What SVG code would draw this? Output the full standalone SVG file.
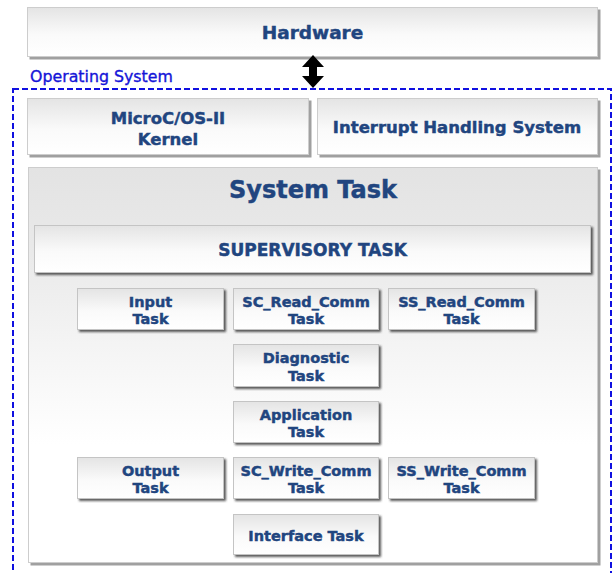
<svg xmlns="http://www.w3.org/2000/svg" width="613" height="573" viewBox="0 0 613 573">
<defs>
<linearGradient id="gBox" x1="0" y1="0" x2="0" y2="1">
<stop offset="0" stop-color="#e4e4e4"/>
<stop offset="0.55" stop-color="#fafafa"/>
<stop offset="1" stop-color="#ffffff"/>
</linearGradient>
<linearGradient id="gBig" x1="0" y1="0" x2="0" y2="1">
<stop offset="0" stop-color="#e3e3e3"/>
<stop offset="0.2" stop-color="#e9e9e9"/>
<stop offset="0.7" stop-color="#ffffff"/>
<stop offset="1" stop-color="#ffffff"/>
</linearGradient>
<filter id="sh" x="-5%" y="-10%" width="115%" height="130%">
<feDropShadow dx="2" dy="2" stdDeviation="0.8" flood-color="#333" flood-opacity="0.8"/>
</filter>
<filter id="shL" x="-5%" y="-10%" width="115%" height="130%">
<feDropShadow dx="2.5" dy="2.5" stdDeviation="0.6" flood-color="#888" flood-opacity="0.8"/>
</filter>
<marker id="head" viewBox="0 0 12 22" markerWidth="12" markerHeight="22" refX="5" refY="11" orient="auto-start-reverse" markerUnits="userSpaceOnUse">
<path d="M0,0 L12,11 L0,22 Z" fill="#000"/>
</marker>
</defs>
<style>
.box{fill:url(#gBox);stroke:#c4c4c4;stroke-width:1;filter:url(#sh)}
.big{fill:url(#gBox);stroke:#cdcdcd;stroke-width:1;filter:url(#shL)}
.sys{fill:url(#gBig);stroke:#cdcdcd;stroke-width:1;filter:url(#shL)}
.t{font-family:"DejaVu Sans","Liberation Sans",sans-serif;font-weight:bold;fill:#21457f;stroke:#21457f;stroke-width:0.45;text-anchor:middle}
.s{font-size:14.5px}
.m{font-size:16.5px}
.os{fill:none;stroke:#1010e0;stroke-width:2;stroke-dasharray:6 3}
</style>
<rect width="613" height="573" fill="#ffffff"/>

<g id="os-frame">
<rect class="os" x="13" y="89" width="598" height="520"/>
<text x="30" y="82" font-family="DejaVu Sans, sans-serif" font-size="15.8" fill="#1414d8" stroke="#1414d8" stroke-width="0.35">Operating System</text>
</g>

<g id="hardware">
<rect class="big" x="27.5" y="7.5" width="570" height="49"/>
<text class="t" x="312.5" y="39" font-size="18.5">Hardware</text>
</g>

<g id="kernel">
<rect class="big" x="27.5" y="98.5" width="281" height="56"/>
<text class="t m" x="168" y="124">MicroC/OS-II</text>
<text class="t m" x="168" y="145">Kernel</text>
</g>

<g id="interrupt">
<rect class="big" x="317.5" y="98.5" width="280" height="56"/>
<text class="t m" x="457" y="133">Interrupt Handling System</text>
</g>

<g id="system-task">
<rect class="sys" x="28.5" y="167.5" width="569" height="395"/>
<text class="t" x="313" y="198" font-size="24">System Task</text>
</g>

<g id="supervisory">
<rect class="box" x="34.5" y="225.5" width="556" height="47"/>
<text class="t" x="312.5" y="256" font-size="17">SUPERVISORY TASK</text>
</g>

<g id="input-task">
<rect class="box" x="77.5" y="288.5" width="146" height="41"/>
<text class="t s" x="150.5" y="307">Input</text>
<text class="t s" x="150.5" y="324">Task</text>
</g>
<g id="sc-read">
<rect class="box" x="233.5" y="288.5" width="145" height="41"/>
<text class="t s" x="306" y="307">SC_Read_Comm</text>
<text class="t s" x="306" y="324">Task</text>
</g>
<g id="ss-read">
<rect class="box" x="388.5" y="288.5" width="146" height="41"/>
<text class="t s" x="461.5" y="307">SS_Read_Comm</text>
<text class="t s" x="461.5" y="324">Task</text>
</g>
<g id="diagnostic">
<rect class="box" x="233.5" y="344.5" width="145" height="42"/>
<text class="t s" x="306" y="363">Diagnostic</text>
<text class="t s" x="306" y="381">Task</text>
</g>
<g id="application">
<rect class="box" x="233.5" y="401.5" width="145" height="41"/>
<text class="t s" x="306" y="420">Application</text>
<text class="t s" x="306" y="437">Task</text>
</g>
<g id="output-task">
<rect class="box" x="77.5" y="457.5" width="146" height="41"/>
<text class="t s" x="150.5" y="476">Output</text>
<text class="t s" x="150.5" y="493">Task</text>
</g>
<g id="sc-write">
<rect class="box" x="233.5" y="457.5" width="145" height="41"/>
<text class="t s" x="306" y="476">SC_Write_Comm</text>
<text class="t s" x="306" y="493">Task</text>
</g>
<g id="ss-write">
<rect class="box" x="388.5" y="457.5" width="146" height="41"/>
<text class="t s" x="461.5" y="476">SS_Write_Comm</text>
<text class="t s" x="461.5" y="493">Task</text>
</g>
<g id="interface-task">
<rect class="box" x="233.5" y="514.5" width="145" height="40"/>
<text class="t s" x="306" y="541">Interface Task</text>
</g>

<g id="connectors">
<line x1="313" y1="62" x2="313" y2="81" stroke="#000" stroke-width="8" marker-start="url(#head)" marker-end="url(#head)"/>
</g>
</svg>
